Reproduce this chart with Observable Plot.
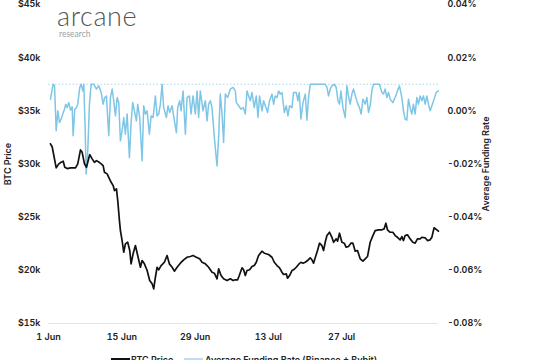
<!DOCTYPE html>
<html>
<head>
<meta charset="utf-8">
<script src="https://cdn.jsdelivr.net/npm/d3@7"></script>
<script src="https://cdn.jsdelivr.net/npm/@observablehq/plot@0.6"></script>
<style>
  html, body { margin: 0; padding: 0; background: #fff; }
  #wrap { position: relative; width: 559px; height: 360px; overflow: hidden; font-family: Inter, sans-serif; }
  .logo { position: absolute; left: 57px; top: 4px; font-family: Lato, sans-serif; font-weight: 300; font-size: 27px; color: #555; letter-spacing: 0.6px; line-height: 24px; }
  .logo-sub { position: absolute; left: 59px; top: 30px; font-family: Lato, sans-serif; font-weight: 400; font-size: 8.5px; color: #a0a0a0; line-height: 9px; }
  .legend { position: absolute; top: 354px; left: 0; width: 559px; height: 14px; font-size: 9px; font-weight: 600; color: #222; }
  .sw { position: absolute; top: 4px; height: 2px; }
  .lt { position: absolute; top: 0; line-height: 12px; white-space: nowrap; }
</style>
</head>
<body>
<div id="wrap">
  <div id="chart"></div>
  <div class="logo">arcane</div>
  <div class="logo-sub">research</div>
  <div class="legend">
    <div class="sw" style="left:111px;width:19px;background:#111;"></div>
    <div class="lt" style="left:131px;">BTC Price</div>
    <div class="sw" style="left:184px;width:19px;background:#b9e0f2;"></div>
    <div class="lt" style="left:205px;">Average Funding Rate (Binance + Bybit)</div>
  </div>
</div>
<script>
// ---- data (days since 1 Jun 2022) ----
const priceDay = [0.38,0.71,1.47,1.97,2.42,2.81,3.11,3.57,4.20,5.15,5.59,6.11,6.43,6.87,7.25,7.50,7.88,8.34,8.78,9.16,9.68,10.06,10.44,10.69,11.20,11.51,11.97,12.35,12.60,12.98,13.23,13.55,13.74,14.06,14.37,14.69,15.13,15.52,15.78,16.16,16.60,17.04,17.56,17.88,18.32,18.84,19.33,19.79,20.10,20.42,20.74,21.05,21.51,22.14,22.65,23.09,23.61,24.05,24.56,25.19,25.82,26.47,27.10,27.61,28.24,28.87,29.33,29.96,30.59,31.24,31.68,32.19,32.50,32.96,33.45,34.10,34.73,35.25,35.69,36.13,36.45,36.97,37.27,37.60,37.92,38.42,38.87,39.31,39.69,40.13,40.78,41.22,42.04,42.69,43.13,43.65,44.14,44.60,44.90,45.42,45.67,46.05,46.51,46.81,47.33,47.77,48.22,48.61,49.05,49.48,50.00,50.32,50.63,50.95,51.39,51.77,52.23,52.54,52.86,53.19,53.68,54.14,54.45,54.96,55.21,55.59,56.05,56.49,56.87,57.31,57.77,58.15,58.59,59.03,59.54,60.06,60.50,60.94,61.45,61.97,62.40,63.03,63.68,64.12,64.45,64.75,65.27,65.78,66.22,66.66,67.18,67.50,67.81,68.13,68.57,69.08,69.60,70.04,70.48,70.99,71.32,71.95,72.39,72.90,73.23,73.66,74.18,74.48];
const priceUsd = [31900,31600,29640,30010,30160,30260,29690,29570,29640,29640,30010,31330,31100,30010,29690,30160,30890,30480,30160,30320,30160,30010,29850,29220,29070,28750,28280,27970,27500,27660,26560,24680,23740,22800,21700,22490,22640,21860,20610,21550,22330,21390,20290,20920,20610,19980,19040,18730,18260,19350,20290,20050,20450,20760,21390,20610,20290,19920,20290,20670,20990,21230,21300,21390,21230,21080,20760,20610,20290,19820,19730,19200,20140,19510,19200,19040,19200,19040,19110,19110,19510,20240,20050,19510,19980,20050,20360,20450,20760,21390,21800,21610,21490,21230,20760,20450,20240,19820,19610,19670,19260,19510,19980,20050,20290,20550,20760,20670,20760,20920,21180,20990,20670,21180,21860,22550,22330,21860,22640,23270,23580,23110,22640,22960,22740,23490,22640,22550,22170,22240,22550,22550,21800,21860,21080,20860,21080,21300,22640,23270,23740,23810,23810,23900,24430,23810,23580,23580,23270,23110,22870,23180,22800,23270,23340,22960,22640,22550,22960,22960,23110,23060,22800,22870,23110,24000,23810,23680];

const fundingDay = [0.38,0.71,0.90,1.15,1.47,1.77,2.10,2.42,2.73,3.05,3.30,3.57,3.87,4.20,4.52,4.71,5.02,5.34,5.59,5.97,6.24,6.55,6.74,7.00,7.19,7.50,7.82,8.15,8.65,9.16,9.60,10.06,10.44,10.74,11.07,11.51,11.83,12.16,12.46,12.79,13.11,13.42,13.74,14.06,14.37,14.69,15.02,15.46,15.78,16.09,16.41,16.79,17.04,17.42,17.88,18.19,18.51,18.84,19.27,19.60,19.98,20.42,20.74,21.05,21.37,21.70,22.00,22.52,22.84,23.15,23.61,24.05,24.43,24.68,25.06,25.32,25.71,26.15,26.47,26.91,27.23,27.61,28.05,28.38,28.68,29.01,29.52,29.96,30.29,30.59,30.92,31.24,31.68,32.19,32.50,32.82,33.15,33.45,33.78,34.22,34.73,35.25,35.69,35.88,36.32,36.77,37.21,37.60,37.92,38.23,38.55,38.87,39.31,39.69,40.02,40.32,40.78,41.09,41.55,41.85,42.23,42.69,43.00,43.32,43.65,43.95,44.27,44.60,45.04,45.42,45.74,46.05,46.51,46.81,47.33,47.65,47.90,48.22,48.61,49.05,49.37,49.68,50.00,50.32,50.95,51.58,52.23,52.86,53.19,53.49,53.82,54.14,54.58,54.96,55.29,55.59,55.86,56.24,56.68,57.00,57.31,57.63,57.96,58.26,58.78,59.10,59.41,59.73,60.06,60.50,60.82,61.13,61.45,61.77,62.08,62.73,63.23,63.68,63.99,64.31,64.64,64.94,65.27,65.78,66.22,66.66,67.04,67.50,67.81,68.13,68.45,68.76,69.08,69.41,69.71,70.04,70.36,70.67,70.99,71.32,71.62,71.95,72.27,72.58,72.90,73.23,73.66,74.05,74.48];
const fundingRate = [0.0044,0.0082,0.0100,0.0094,-0.0075,0,-0.0044,-0.0031,-0.0012,0.0006,0.0025,0.0012,0.0031,0.0003,0.0015,-0.0094,0.0006,0.0012,0.0025,0.0088,0.0100,0.0075,0.0100,-0.0063,-0.0238,-0.0150,0.0025,0.0100,0.0100,0.0082,0.0094,0.0069,0.0025,0.0050,0.0056,-0.0094,0.0050,0.0082,0.0038,-0.0019,0.0050,0.0031,-0.0113,-0.0075,-0.0025,-0.0088,-0.0012,-0.0176,-0.0044,0.0031,0,-0.0038,0.0025,-0.0025,-0.0188,0.0019,-0.0012,0,-0.0088,-0.0019,-0.0025,0.0056,-0.0019,-0.0012,0.0025,0.0100,0.0012,-0.0025,0.0019,-0.0006,0.0019,-0.0038,-0.0082,0.0012,0.0038,0,0.0075,-0.0088,0.0050,0.0056,-0.0012,0.0056,-0.0012,0.0075,-0.0025,0.0075,0,0.0038,-0.0038,0.0025,0.0038,0.0012,-0.0100,-0.0207,-0.0100,0.0063,-0.0012,-0.0119,0.0063,0.0050,0.0082,0.0088,0.0075,0.0031,0.0019,0.0006,0.0012,-0.0012,0.0075,0.0056,0.0038,0.0069,0.0012,0.0056,-0.0025,0.0056,0,0.0038,0.0012,-0.0006,0.0038,0.0063,0.0025,0.0056,0.0050,0.0075,0.0063,0.0069,-0.0006,0.0019,-0.0019,0.0019,0.0012,0.0069,0.0069,0.0038,0.0069,-0.0031,0.0031,0.0063,-0.0035,0.0050,0.0100,0.0100,0.0100,0.0100,0.0100,0.0100,0.0088,0.0056,0.0082,0.0094,0.0100,0.0088,0.0038,0.0025,0.0075,0.0012,-0.0025,0.0094,0.0056,0.0025,0.0063,0.0082,0.0044,0.0025,0.0012,-0.0012,0.0044,0.0025,0.0050,-0.0006,0.0019,0.0075,0.0100,0.0100,0.0100,0.0069,0.0063,0.0082,0.0050,0.0069,0.0044,0.0031,0.0050,0.0075,0.0094,0.0050,0,-0.0031,-0.0035,0.0044,0.0012,-0.0012,0.0025,-0.0012,0.0050,0.0025,0.0056,0.0038,0.0056,0.0025,0.0056,0.0025,0,0.0019,0.0044,0.0069,0.0075];
const fundingBaseline = [0.01];

const priceTicks = [15000,20000,25000,30000,35000,40000,45000];
const priceTickLabels = ["$15k","$20k","$25k","$30k","$35k","$40k","$45k"];
const rateTicks = [-0.08,-0.06,-0.04,-0.02,0,0.02,0.04];
const rateTickLabels = ["-0.08%","-0.06%","-0.04%","-0.02%","0.00%","0.02%","0.04%"];
const dateTickDays = [0,14,28,42,56];
const dateTickLabels = ["1 Jun","15 Jun","29 Jun","13 Jul","27 Jul"];
const lastDay = 74.5;

// ---- helpers ----
const t0 = +new Date(2022, 5, 1);
const toDate = d => new Date(t0 + d * 864e5);
// map funding rate (%) onto the price axis: 0.04% <-> $45k, -0.08% <-> $15k
const toPrice = r => 15000 + (r + 0.08) * 250000;

const price = priceDay.map((d, i) => ({date: toDate(d), value: priceUsd[i]}));
const funding = fundingDay.map((d, i) => ({date: toDate(d), rate: fundingRate[i]}));
const dateTicks = dateTickDays.map(toDate);
const rateTicksOnPrice = rateTicks.map(toPrice);

const chart = Plot.plot({
  width: 559,
  height: 346,
  marginTop: 4,
  marginBottom: 23,
  marginLeft: 48,
  marginRight: 121,
  style: {fontFamily: "Inter, sans-serif", fontSize: "9px", fontWeight: 600, color: "#222", background: "#fff"},
  x: {type: "time", domain: [toDate(0), toDate(lastDay)]},
  y: {domain: [15000, 45000]},
  marks: [
    Plot.ruleY([priceTicks[0]], {stroke: "#e3e3e3", strokeWidth: 1}),
    Plot.ruleY(fundingBaseline.map(toPrice), {stroke: "#a9d6ec", strokeWidth: 1, strokeDasharray: "1.5 2"}),
    Plot.lineY(funding, {x: "date", y: d => toPrice(d.rate), stroke: "#7ec5e6", strokeWidth: 1.5}),
    Plot.lineY(price, {x: "date", y: "value", stroke: "#111", strokeWidth: 1.7}),
    Plot.axisX(dateTicks, {tickSize: 0, tickPadding: 10, label: null,
      tickFormat: d => dateTickLabels[dateTicks.findIndex(t => +t === +d)]}),
    Plot.axisY(priceTicks, {anchor: "left", tickSize: 0, tickPadding: 8,
      tickFormat: v => priceTickLabels[priceTicks.indexOf(v)],
      label: "BTC Price", labelArrow: false, labelAnchor: "center", labelOffset: 44}),
    Plot.axisY(rateTicksOnPrice, {anchor: "right", tickSize: 0, tickPadding: 9,
      tickFormat: v => rateTickLabels[rateTicksOnPrice.indexOf(v)],
      label: "Average Funding Rate", labelArrow: false, labelAnchor: "center", labelOffset: 50})
  ]
});
document.getElementById("chart").appendChild(chart);
</script>
</body>
</html>
